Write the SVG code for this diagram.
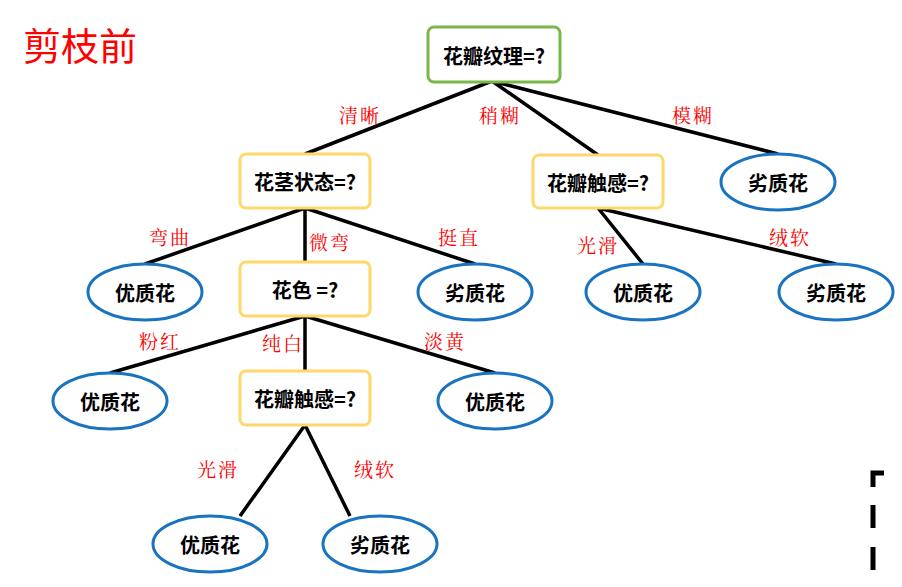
<svg xmlns="http://www.w3.org/2000/svg" width="902" height="587" viewBox="0 0 902 587">
<style>
.box{fill:#fff;stroke:#fdd86b;stroke-width:3}
.ell{fill:#fff;stroke:#1a73c0;stroke-width:3}
.t{font-family:"Noto Sans CJK SC",sans-serif;font-weight:bold;font-size:20px;text-anchor:middle;dominant-baseline:central;fill:#000}
.lb{font-family:"Noto Serif CJK SC","Liberation Serif","Noto Sans CJK SC",serif;font-size:19px;letter-spacing:2px;fill:#f00;text-anchor:middle;dominant-baseline:central}
.e{stroke:#000;stroke-width:3.5;fill:none}
</style>
<rect width="902" height="587" fill="#fff"/>
<text x="80" y="43" font-family="Noto Sans CJK SC,sans-serif" font-size="38" fill="#f00" text-anchor="middle" dominant-baseline="central">剪枝前</text>
<g id="connectors">
<path class="e" d="M492 81L305 154M492 81L598 155M492 81L778 154M305 208L145 264M305 208V262M305 208L475 264M598 208L643 264M598 208L836 264M305 316L110 373M305 316V371M305 316L495 373M305 425L240 516M305 425L350 516"/>
<path d="M873 487V473H884M873 505V528M873 547V570" stroke="#000" stroke-width="5" fill="none"/>
</g>
<g id="labels">
<text class="lb" x="360" y="114">清晰</text><text class="lb" x="500" y="114">稍糊</text><text class="lb" x="693" y="114">模糊</text>
<text class="lb" x="170" y="236">弯曲</text><text class="lb" x="330" y="241">微弯</text><text class="lb" x="459" y="236">挺直</text>
<text class="lb" x="598" y="244">光滑</text><text class="lb" x="790" y="236">绒软</text>
<text class="lb" x="160" y="340">粉红</text><text class="lb" x="283" y="342">纯白</text><text class="lb" x="445" y="340">淡黄</text>
<text class="lb" x="218" y="468">光滑</text><text class="lb" x="375" y="468">绒软</text>
</g>
<g id="n1"><rect class="box" x="428" y="27" width="132" height="55" rx="6" style="stroke:#7ab648"/><text class="t" x="494" y="55">花瓣纹理=?</text></g>
<g id="n2"><rect class="box" x="240" y="154" width="130" height="54" rx="6"/><text class="t" x="305" y="181">花茎状态=?</text></g>
<g id="n3"><rect class="box" x="533" y="155" width="130" height="53" rx="6"/><text class="t" x="598" y="182">花瓣触感=?</text></g>
<g id="n4"><ellipse class="ell" cx="778" cy="182" rx="57" ry="28"/><text class="t" x="778" y="182">劣质花</text></g>
<g id="n5"><ellipse class="ell" cx="145" cy="292" rx="57" ry="28"/><text class="t" x="145" y="292">优质花</text></g>
<g id="n6"><rect class="box" x="240" y="262" width="130" height="54" rx="6"/><text class="t" x="305" y="289">花色 =?</text></g>
<g id="n7"><ellipse class="ell" cx="475" cy="292" rx="57" ry="28"/><text class="t" x="475" y="292">劣质花</text></g>
<g id="n8"><ellipse class="ell" cx="643" cy="292" rx="57" ry="28"/><text class="t" x="643" y="292">优质花</text></g>
<g id="n9"><ellipse class="ell" cx="836" cy="292" rx="57" ry="28"/><text class="t" x="836" y="292">劣质花</text></g>
<g id="n10"><ellipse class="ell" cx="110" cy="401" rx="57" ry="28"/><text class="t" x="110" y="401">优质花</text></g>
<g id="n11"><rect class="box" x="240" y="371" width="130" height="54" rx="6"/><text class="t" x="305" y="398">花瓣触感=?</text></g>
<g id="n12"><ellipse class="ell" cx="495" cy="401" rx="57" ry="28"/><text class="t" x="495" y="401">优质花</text></g>
<g id="n13"><ellipse class="ell" cx="210" cy="544" rx="57" ry="28"/><text class="t" x="210" y="544">优质花</text></g>
<g id="n14"><ellipse class="ell" cx="380" cy="544" rx="57" ry="28"/><text class="t" x="380" y="544">劣质花</text></g>
</svg>
